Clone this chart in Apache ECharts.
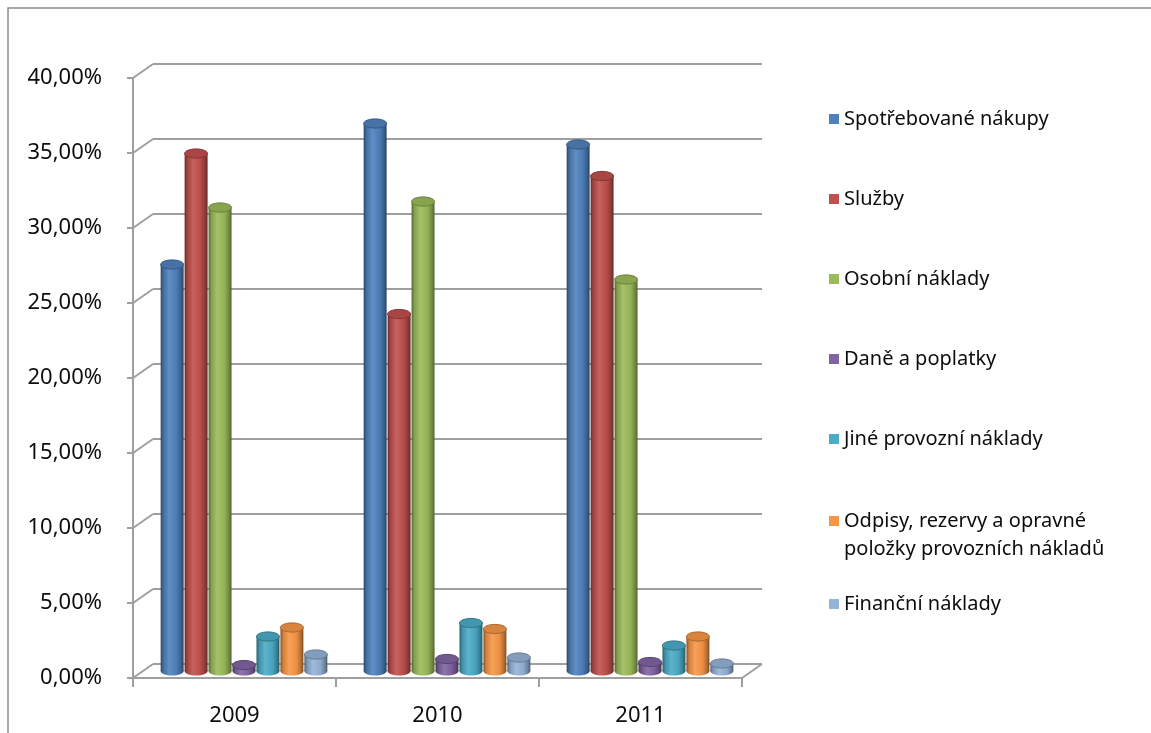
<!DOCTYPE html>
<html>
<head>
<meta charset="utf-8">
<script src="https://cdn.jsdelivr.net/npm/echarts@6/dist/echarts.min.js"></script>
<style>
  html, body { margin: 0; padding: 0; background: #ffffff; }
  #chart { width: 1151px; height: 733px; }
</style>
</head>
<body>
<div id="chart"></div>
<script>
// Struktura nákladů podle druhů (podíl na celkových nákladech)
const years = ['2009', '2010', '2011'];
const seriesNames = [
  'Spotřebované nákupy',
  'Služby',
  'Osobní náklady',
  'Daně a poplatky',
  'Jiné provozní náklady',
  'Odpisy, rezervy a opravné položky provozních nákladů',
  'Finanční náklady'
];
const spotrebovaneNakupy = [27.1, 36.5, 35.1];
const sluzby             = [34.5, 23.8, 33.0];
const osobniNaklady      = [30.9, 31.3, 26.1];
const danePoplatky       = [0.4, 0.8, 0.6];
const jineProvozni       = [2.3, 3.2, 1.7];
const odpisyRezervy      = [2.9, 2.8, 2.3];
const financniNaklady    = [1.1, 0.9, 0.5];
const yTicks = [0, 5, 10, 15, 20, 25, 30, 35, 40];

const seriesValues = [spotrebovaneNakupy, sluzby, osobniNaklady, danePoplatky,
  jineProvozni, odpisyRezervy, financniNaklady];
const palette = ['#4F81BD', '#C0504D', '#9BBB59', '#8064A2', '#4BACC6', '#F79646', '#95B3D7'];

const FONT = 'Noto Sans';
const TEXT = '#0d0d0d';
const GRID_LINE = '#9f9f9f';
// perspective depth of the plot box (back wall is shifted right and up)
const DEPTH_X = 20, DEPTH_Y = -14;

function shade(hex, f) {
  const n = parseInt(hex.slice(1), 16);
  let r = (n >> 16) & 255, g = (n >> 8) & 255, b = n & 255;
  if (f < 1) { r *= f; g *= f; b *= f; }
  else { const t = f - 1; r += (255 - r) * t; g += (255 - g) * t; b += (255 - b) * t; }
  return 'rgb(' + Math.round(r) + ',' + Math.round(g) + ',' + Math.round(b) + ')';
}

function cylinderGradient(c) {
  return new echarts.graphic.LinearGradient(0, 0, 1, 0, [
    { offset: 0, color: shade(c, 0.55) },
    { offset: 0.12, color: shade(c, 0.85) },
    { offset: 0.38, color: shade(c, 1.1) },
    { offset: 0.7, color: shade(c, 0.95) },
    { offset: 0.9, color: shade(c, 0.72) },
    { offset: 1, color: shade(c, 0.5) }
  ]);
}

const pctLabel = v => v.toFixed(2).replace('.', ',') + '%';

const chart = echarts.init(document.getElementById('chart'), null, { renderer: 'canvas' });

const plotW = 609, plotH = 600;
const grids = [
  { left: 133 + DEPTH_X, top: 78 + DEPTH_Y, width: plotW, height: plotH },       // back wall
  { left: 133 + DEPTH_X / 2, top: 78 + DEPTH_Y / 2, width: plotW, height: plotH }, // cylinders
  { left: 133, top: 78, width: plotW, height: plotH }                              // front axes
];

const xAxes = grids.map((g, i) => ({
  type: 'category',
  gridIndex: i,
  data: years,
  boundaryGap: true,
  axisLine: { show: i === 2, lineStyle: { color: GRID_LINE, width: 2 } },
  axisTick: { show: i === 2, length: 9, lineStyle: { color: GRID_LINE, width: 2 } },
  axisLabel: { show: i === 2, color: TEXT, fontFamily: FONT, fontSize: 22, margin: 27 },
  splitLine: { show: false }
}));

const yAxes = grids.map((g, i) => ({
  type: 'value',
  gridIndex: i,
  min: 0, max: 40, interval: 5,
  axisLine: { show: i === 2, lineStyle: { color: GRID_LINE, width: 2 } },
  axisTick: { show: i === 2, length: 6, lineStyle: { color: GRID_LINE, width: 2 } },
  axisLabel: { show: i === 2, color: TEXT, fontFamily: FONT, fontSize: 22, margin: 31, formatter: pctLabel },
  splitLine: { show: i === 0, lineStyle: { color: GRID_LINE, width: 2.2 } }
}));

// slanted edges joining the front axis to the back wall, plus the right floor edge
const depthEdges = {
  type: 'custom',
  xAxisIndex: 2, yAxisIndex: 2,
  silent: true,
  data: yTicks.map(v => [0, v]),
  encode: { x: 0, y: 1 },
  renderItem: function (params, api) {
    const v = api.value(1);
    const cs = params.coordSys;
    const y = api.coord([0, v])[1];
    const children = [{
      type: 'line',
      shape: { x1: cs.x, y1: y, x2: cs.x + DEPTH_X, y2: y + DEPTH_Y },
      style: { stroke: GRID_LINE, lineWidth: 2 }
    }];
    if (v === 0) {
      children.push({
        type: 'line',
        shape: { x1: cs.x + cs.width, y1: y, x2: cs.x + cs.width + DEPTH_X, y2: y + DEPTH_Y },
        style: { stroke: GRID_LINE, lineWidth: 2 }
      });
    }
    return { type: 'group', children: children };
  }
};

function cylinderSeries(k) {
  const color = palette[k];
  return {
    name: seriesNames[k],
    type: 'custom',
    xAxisIndex: 1, yAxisIndex: 1,
    itemStyle: { color: color },
    data: seriesValues[k].map((v, i) => [i, v]),
    encode: { x: 0, y: 1 },
    renderItem: function (params, api) {
      const ci = api.value(0), val = api.value(1);
      const band = api.size([1, 0])[0];
      const step = band * 0.118;
      const w = step - 1;
      const base = api.coord([ci, 0]);
      const topY = api.coord([ci, val])[1];
      const x = base[0] - step * 7 / 2 + k * step;
      const ry = w * 0.2;
      const grad = cylinderGradient(color);
      return {
        type: 'group',
        children: [
          { type: 'ellipse', shape: { cx: x + w / 2, cy: base[1], rx: w / 2, ry: ry },
            style: { fill: grad } },
          { type: 'rect', shape: { x: x, y: topY, width: w, height: base[1] - topY },
            style: { fill: grad } },
          { type: 'ellipse', shape: { cx: x + w / 2, cy: topY, rx: w / 2, ry: ry },
            style: { fill: shade(color, 0.88), stroke: shade(color, 0.68), lineWidth: 1 } }
        ]
      };
    }
  };
}

const legendBase = {
  orient: 'vertical',
  left: 824,
  icon: 'rect',
  itemWidth: 10,
  itemHeight: 10,
  itemGap: 58,
  selectedMode: false,
  textStyle: { color: TEXT, fontFamily: FONT, fontSize: 20, lineHeight: 22 }
};

const option = {
  backgroundColor: '#ffffff',
  animation: false,
  graphic: [{
    type: 'rect',
    shape: { x: 8, y: 8, width: 1300, height: 900 },
    style: { fill: 'none', stroke: '#8a8a8a', lineWidth: 1.5 },
    silent: true
  }],
  legend: [
    Object.assign({}, legendBase, { top: 103, data: seriesNames.slice(0, 5) }),
    Object.assign({}, legendBase, {
      top: 502,
      data: [seriesNames[5]],
      // square marker sits beside the first of the two text lines
      icon: 'path://M0,0h10v10h-10z M0,38 L0.01,38',
      itemHeight: 38,
      formatter: () => 'Odpisy, rezervy a opravné\npoložky provozních nákladů',
      textStyle: Object.assign({}, legendBase.textStyle, { lineHeight: 28 })
    }),
    Object.assign({}, legendBase, { top: 588, data: [seriesNames[6]] })
  ],
  grid: grids,
  xAxis: xAxes,
  yAxis: yAxes,
  series: [depthEdges].concat(seriesNames.map((n, k) => cylinderSeries(k)))
};

chart.setOption(option);
</script>
</body>
</html>
